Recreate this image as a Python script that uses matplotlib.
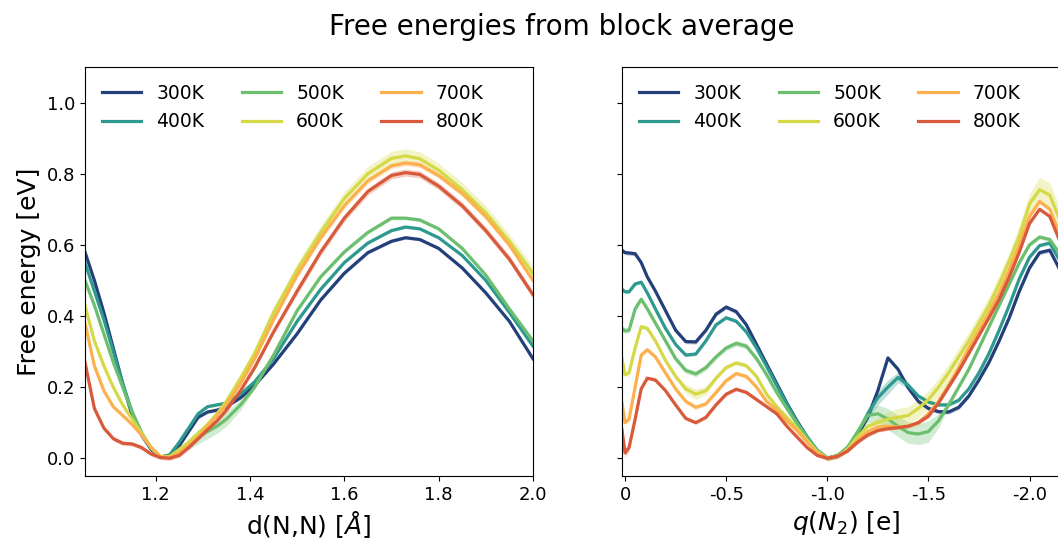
import matplotlib.pyplot as plt
import numpy as np

# temperatures and line colours
temps = ['300K', '400K', '500K', '600K', '700K', '800K']
colors = ['#24407a', '#2e9a8f', '#6cbf6f', '#d5d946', '#fdb04e', '#d95a3b']

# ---- N-N distance ----
d_nn = [1.05, 1.07, 1.09, 1.11, 1.13, 1.15, 1.17, 1.19, 1.21, 1.23, 1.25, 1.27,
        1.29, 1.31, 1.33, 1.35, 1.38, 1.41, 1.45, 1.50, 1.55, 1.60, 1.65, 1.70,
        1.73, 1.76, 1.80, 1.85, 1.90, 1.95, 2.00]

fe_d_300 = [0.58, 0.50, 0.41, 0.31, 0.21, 0.12, 0.065, 0.025, 0.003, 0.008, 0.035, 0.075,
            0.115, 0.13, 0.135, 0.145, 0.17, 0.205, 0.265, 0.35, 0.445, 0.52, 0.578, 0.61,
            0.62, 0.615, 0.59, 0.535, 0.465, 0.385, 0.28]
fe_d_400 = [0.55, 0.47, 0.39, 0.30, 0.21, 0.13, 0.07, 0.028, 0.003, 0.01, 0.045, 0.085,
            0.125, 0.145, 0.15, 0.155, 0.18, 0.215, 0.28, 0.385, 0.475, 0.55, 0.605, 0.64,
            0.65, 0.645, 0.62, 0.57, 0.50, 0.41, 0.315]
fe_d_500 = [0.50, 0.43, 0.35, 0.27, 0.20, 0.13, 0.072, 0.03, 0.003, 0.005, 0.02, 0.04,
            0.06, 0.075, 0.09, 0.11, 0.15, 0.20, 0.29, 0.415, 0.51, 0.58, 0.635, 0.675,
            0.675, 0.67, 0.645, 0.59, 0.515, 0.42, 0.33]
fe_d_600 = [0.43, 0.33, 0.26, 0.20, 0.15, 0.11, 0.07, 0.03, 0.005, 0.005, 0.025, 0.045,
            0.07, 0.095, 0.125, 0.16, 0.225, 0.295, 0.41, 0.53, 0.635, 0.73, 0.80, 0.843,
            0.85, 0.842, 0.81, 0.755, 0.69, 0.61, 0.52]
fe_d_700 = [0.38, 0.26, 0.19, 0.145, 0.12, 0.095, 0.065, 0.03, 0.005, 0.002, 0.015, 0.035,
            0.06, 0.09, 0.12, 0.15, 0.21, 0.28, 0.39, 0.515, 0.62, 0.71, 0.78, 0.822,
            0.83, 0.825, 0.795, 0.745, 0.68, 0.60, 0.50]
fe_d_800 = [0.27, 0.14, 0.085, 0.055, 0.042, 0.04, 0.03, 0.012, 0.002, 0.0, 0.008, 0.03,
            0.055, 0.08, 0.105, 0.135, 0.19, 0.255, 0.355, 0.47, 0.58, 0.675, 0.75, 0.795,
            0.803, 0.798, 0.765, 0.71, 0.64, 0.56, 0.46]

err_d_300 = [0.004] * 31
err_d_400 = [0.004] * 31
err_d_500 = [0.005] * 11 + [0.015, 0.02, 0.02, 0.02, 0.02, 0.015] + [0.005] * 14
err_d_600 = [0.005] * 16 + [0.012, 0.015, 0.015, 0.018] + [0.02] * 11
err_d_700 = [0.005] * 19 + [0.008] * 12
err_d_800 = [0.006] * 19 + [0.01] * 12

# ---- N2 charge ----
q_n2 = [0.015, 0.0, -0.02, -0.05, -0.08, -0.11, -0.15, -0.2, -0.25, -0.3, -0.35, -0.4,
        -0.45, -0.5, -0.55, -0.6, -0.65, -0.7, -0.75, -0.8, -0.85, -0.9, -0.95, -1.0,
        -1.05, -1.1, -1.15, -1.2, -1.25, -1.3, -1.35, -1.4, -1.45, -1.5, -1.55, -1.6,
        -1.65, -1.7, -1.75, -1.8, -1.85, -1.9, -1.95, -2.0, -2.05, -2.1, -2.15, -2.2]

fe_q_300 = [0.585, 0.578, 0.577, 0.575, 0.55, 0.51, 0.47, 0.415, 0.36, 0.328, 0.327, 0.36,
            0.405, 0.425, 0.412, 0.375, 0.32, 0.265, 0.21, 0.155, 0.105, 0.06, 0.022, 0.0,
            0.007, 0.028, 0.065, 0.115, 0.19, 0.282, 0.25, 0.198, 0.16, 0.14, 0.131, 0.13,
            0.143, 0.175, 0.22, 0.27, 0.33, 0.395, 0.47, 0.535, 0.578, 0.585, 0.53, 0.46]
fe_q_400 = [0.475, 0.468, 0.468, 0.49, 0.495, 0.465, 0.42, 0.365, 0.32, 0.29, 0.293, 0.33,
            0.375, 0.395, 0.385, 0.355, 0.31, 0.258, 0.205, 0.152, 0.103, 0.06, 0.022, 0.0,
            0.007, 0.03, 0.07, 0.125, 0.17, 0.2, 0.227, 0.205, 0.175, 0.158, 0.15, 0.15,
            0.163, 0.195, 0.24, 0.295, 0.36, 0.43, 0.505, 0.565, 0.598, 0.605, 0.555, 0.48]
fe_q_500 = [0.365, 0.358, 0.36, 0.42, 0.447, 0.42, 0.38, 0.33, 0.28, 0.247, 0.237, 0.255,
            0.285, 0.31, 0.323, 0.315, 0.28, 0.235, 0.185, 0.14, 0.098, 0.058, 0.022, 0.0,
            0.007, 0.03, 0.075, 0.12, 0.125, 0.11, 0.09, 0.072, 0.068, 0.075, 0.105, 0.15,
            0.2, 0.25, 0.31, 0.37, 0.43, 0.49, 0.55, 0.6, 0.622, 0.615, 0.575, 0.50]
fe_q_600 = [0.28, 0.235, 0.24, 0.31, 0.37, 0.365, 0.33, 0.275, 0.23, 0.195, 0.18, 0.19,
            0.225, 0.255, 0.268, 0.26, 0.23, 0.18, 0.145, 0.115, 0.085, 0.05, 0.018, 0.0,
            0.006, 0.025, 0.06, 0.09, 0.1, 0.11, 0.115, 0.12, 0.14, 0.165, 0.2, 0.24,
            0.285, 0.33, 0.38, 0.43, 0.49, 0.555, 0.625, 0.715, 0.755, 0.74, 0.67, 0.58]
fe_q_700 = [0.155, 0.10, 0.11, 0.20, 0.29, 0.305, 0.285, 0.24, 0.195, 0.16, 0.143, 0.153,
            0.185, 0.218, 0.238, 0.23, 0.2, 0.16, 0.135, 0.105, 0.078, 0.045, 0.015, 0.0,
            0.005, 0.022, 0.05, 0.075, 0.088, 0.09, 0.088, 0.09, 0.1, 0.125, 0.16, 0.205,
            0.255, 0.31, 0.36, 0.41, 0.465, 0.53, 0.60, 0.68, 0.722, 0.70, 0.63, 0.54]
fe_q_800 = [0.08, 0.015, 0.03, 0.11, 0.195, 0.225, 0.22, 0.19, 0.15, 0.112, 0.10, 0.115,
            0.15, 0.18, 0.194, 0.185, 0.165, 0.145, 0.125, 0.09, 0.06, 0.03, 0.008, 0.0,
            0.005, 0.02, 0.045, 0.065, 0.078, 0.083, 0.086, 0.09, 0.10, 0.118, 0.155, 0.2,
            0.245, 0.295, 0.345, 0.395, 0.447, 0.51, 0.58, 0.66, 0.70, 0.68, 0.61, 0.52]

err_q_300 = [0.006] * 48
err_q_400 = [0.005] * 27 + [0.015, 0.02, 0.02, 0.015, 0.01] + [0.005] * 16
err_q_500 = [0.008] * 27 + [0.02, 0.025, 0.03, 0.03, 0.03, 0.03, 0.03, 0.02] + [0.006] * 13
err_q_600 = ([0.006] * 9 + [0.012, 0.015, 0.012] + [0.006] * 16
             + [0.015, 0.02, 0.025, 0.025, 0.025, 0.025, 0.025, 0.025, 0.025, 0.025,
                0.025, 0.025, 0.025, 0.025, 0.03, 0.03, 0.035, 0.035, 0.035, 0.03])
err_q_700 = [0.006] * 48
err_q_800 = [0.012, 0.012, 0.01] + [0.005] * 45

fe_d = [fe_d_300, fe_d_400, fe_d_500, fe_d_600, fe_d_700, fe_d_800]
err_d = [err_d_300, err_d_400, err_d_500, err_d_600, err_d_700, err_d_800]
fe_q = [fe_q_300, fe_q_400, fe_q_500, fe_q_600, fe_q_700, fe_q_800]
err_q = [err_q_300, err_q_400, err_q_500, err_q_600, err_q_700, err_q_800]

fig = plt.figure(figsize=(10.58, 5.39), dpi=100)
ax1 = fig.add_axes([0.0803, 0.1169, 0.4234, 0.7588])
ax2 = fig.add_axes([0.5879, 0.1169, 0.4234, 0.7588], sharey=ax1)


def draw(ax, x, curves, errs):
    x = np.array(x)
    for t, c, y, e in zip(temps, colors, curves, errs):
        y = np.array(y)
        e = np.array(e)
        ax.fill_between(x, y - e, y + e, color=c, alpha=0.3, lw=0)
        ax.plot(x, y, color=c, lw=2.3, label=t, solid_joinstyle='round')
    ax.legend(ncol=3, frameon=False, loc='upper left', fontsize=13.5,
              handlelength=2.1, columnspacing=2.0, handletextpad=0.8,
              labelspacing=0.5)
    ax.tick_params(labelsize=13)


draw(ax1, d_nn, fe_d, err_d)
draw(ax2, q_n2, fe_q, err_q)

ax1.set_ylim(-0.05, 1.1)
ax1.set_yticks([0.0, 0.2, 0.4, 0.6, 0.8, 1.0])
ax1.set_xlim(1.05, 2.0)
ax1.set_xticks([1.2, 1.4, 1.6, 1.8, 2.0])
ax1.set_xlabel('d(N,N) [$\\AA$]', fontsize=18)
ax1.set_ylabel('Free energy [eV]', fontsize=18)

ax2.set_xlim(0.015, -2.2)
ax2.set_xticks([0, -0.5, -1.0, -1.5, -2.0])
ax2.set_xticklabels(['0', '-0.5', '-1.0', '-1.5', '-2.0'])
ax2.tick_params(labelleft=False)
ax2.set_xlabel('$q(N_2)$ [e]', fontsize=18)

fig.text(0.5307, 0.95, 'Free energies from block average', ha='center',
         va='center', fontsize=20)

fig.savefig('out.png', dpi=100)
